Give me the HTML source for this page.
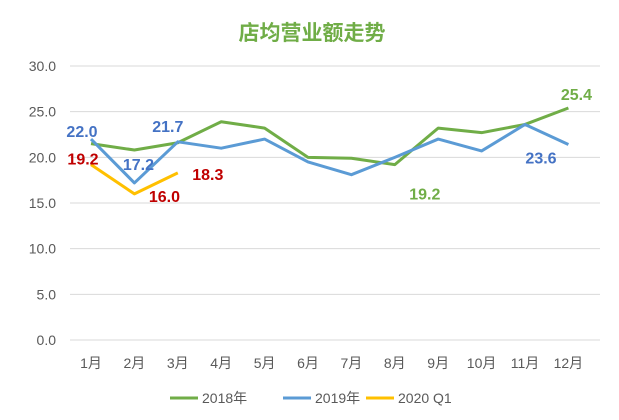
<!DOCTYPE html>
<html><head><meta charset="utf-8"><style>
body{margin:0;background:#fff;font-family:"Liberation Sans","Noto Sans CJK SC",sans-serif}
</style></head><body>
<svg id="chart" width="619" height="415" xmlns="http://www.w3.org/2000/svg" font-family="Liberation Sans, Noto Sans CJK SC, sans-serif">
<text x="312" y="40" text-anchor="middle" font-size="21" font-weight="bold" fill="#70ad47">店均营业额走势</text>
<g id="grid"></g><g id="lines"></g><g id="labels"></g>
<g font-size="14" fill="#595959">
<line x1="170" y1="398" x2="198" y2="398" stroke="#70ad47" stroke-width="3"/><text x="202" y="403">2018年</text>
<line x1="283" y1="398" x2="311" y2="398" stroke="#5b9bd5" stroke-width="3"/><text x="315" y="403">2019年</text>
<line x1="366" y1="398" x2="394" y2="398" stroke="#ffc000" stroke-width="3"/><text x="398" y="403">2020 Q1</text>
</g>
</svg>
<script>
const categories=["1月","2月","3月","4月","5月","6月","7月","8月","9月","10月","11月","12月"];
const yTicks=[0,5,10,15,20,25,30];
const s2018=[21.5,20.8,21.6,23.9,23.2,20.0,19.9,19.2,23.2,22.7,23.6,25.4];
const s2019=[22.0,17.2,21.7,21.0,22.0,19.5,18.1,20.0,22.0,20.7,23.6,21.4];
const s2020=[19.2,16.0,18.3];
const ns="http://www.w3.org/2000/svg";
const x=i=>91+i*43.4, y=v=>340-v*(274/30);
function mk(t,a,p){const e=document.createElementNS(ns,t);for(const k in a)e.setAttribute(k,a[k]);p.appendChild(e);return e;}
const g=document.getElementById('grid'),L=document.getElementById('lines'),T=document.getElementById('labels');
yTicks.forEach(v=>{const l=mk('line',{x1:70,x2:600,y1:y(v),y2:y(v),stroke:'#d9d9d9','stroke-width':1},g);


const t=mk('text',{x:56,y:y(v)+5,'text-anchor':'end','font-size':14,fill:'#595959'},g);t.textContent=v.toFixed(1);

});
categories.forEach((c,i)=>{const t=mk('text',{x:x(i),y:368,'text-anchor':'middle','font-size':14,fill:'#595959'},g);t.textContent=c;

});
function line(d,col,name){const p=mk('polyline',{points:d.map((v,i)=>x(i)+','+y(v)).join(' '),fill:'none',stroke:col,'stroke-width':3,'stroke-linejoin':'round'},L);

}
line(s2018,'#70ad47','series-2018');line(s2019,'#5b9bd5','series-2019');line(s2020,'#ffc000','series-2020');
function lab(d,i,dx,dy,col){const t=mk('text',{x:x(i)+dx,y:y(d[i])+dy,'text-anchor':'middle','font-size':16,'font-weight':'bold',fill:col},T);t.textContent=d[i].toFixed(1);

}
lab(s2018,7,30,35,'#70ad47');lab(s2018,11,8,-8,'#70ad47');
lab(s2019,0,-9,-2,'#4472c4');lab(s2019,1,4,-13,'#4472c4');lab(s2019,2,-10,-10,'#4472c4');lab(s2019,10,16,39,'#4472c4');
lab(s2020,0,-8,0,'#c00000');lab(s2020,1,30,8,'#c00000');lab(s2020,2,30,7,'#c00000');
</script>
</body></html>
